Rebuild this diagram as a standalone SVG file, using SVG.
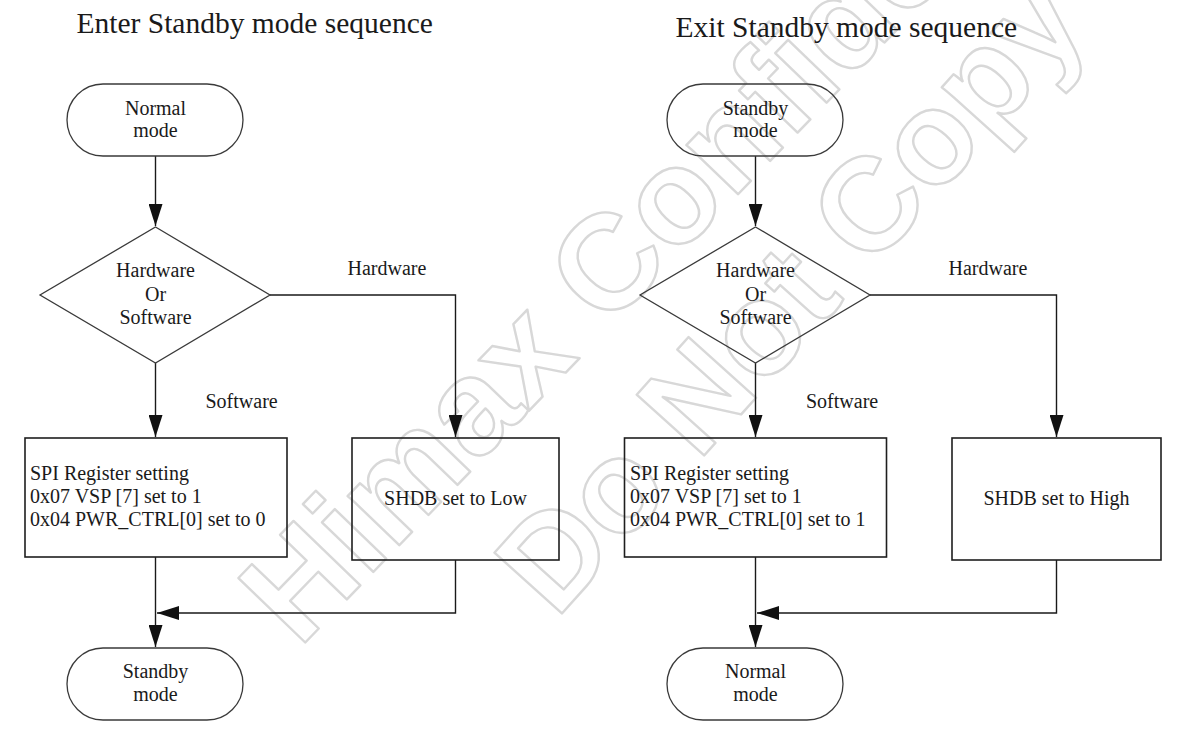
<svg xmlns="http://www.w3.org/2000/svg" width="1177" height="730" viewBox="0 0 1177 730">
  <style>
    .t { font-family: "Liberation Serif", "Times New Roman", serif; fill: #1a1a1a; }
    .title { font-size: 29.5px; }
    .lbl { font-size: 20px; }
    .mid { text-anchor: middle; }
    .shape { fill: none; stroke: #3a3a3a; stroke-width: 1.3; }
    .box { fill: none; stroke: #1e1e1e; stroke-width: 1.6; }
    .wire { fill: none; stroke: #1a1a1a; stroke-width: 1.4; }
    .wm { font-family: "Liberation Sans", Arial, sans-serif; font-weight: bold; fill: none; stroke: #d8d8d8; stroke-width: 2.4; stroke-linejoin: round; }
  </style>
  <defs>
    <marker id="arrow" markerUnits="userSpaceOnUse" markerWidth="22" markerHeight="14" refX="22" refY="7" orient="auto">
      <path d="M0,0 L22,7 L0,14 z" fill="#111"/>
    </marker>
  </defs>

  <rect width="1177" height="730" fill="#ffffff"/>

  <!-- background watermark -->
  <g id="watermark">
    <text class="wm" font-size="135" transform="translate(299,649) rotate(-46)">Himax Confidential</text>
    <text class="wm" font-size="132" transform="translate(556,620) rotate(-48)">Do Not Copy</text>
  </g>

  <!-- titles -->
  <text class="t title" x="76.5" y="33">Enter Standby mode sequence</text>
  <text class="t title" x="675.5" y="37">Exit Standby mode sequence</text>

  <!-- connectors -->
  <g id="connectors" class="wire" marker-end="url(#arrow)">
    <!-- enter sequence -->
    <path d="M155.5,156 V226"/>
    <path d="M155.5,363 V437"/>
    <path d="M270,295 H455.5 V437"/>
    <path d="M155.5,557 V647"/>
    <path d="M455.5,560 V613 H157"/>
    <!-- exit sequence -->
    <path d="M755.5,156 V226"/>
    <path d="M755.5,363 V437"/>
    <path d="M870,295 H1056.5 V437"/>
    <path d="M755.5,557 V647"/>
    <path d="M1056.5,560 V613 H757"/>
  </g>

  <!-- branch labels -->
  <g id="labels">
    <text class="t lbl" x="347.5" y="275">Hardware</text>
    <text class="t lbl" x="205.5" y="408">Software</text>
    <text class="t lbl" x="948.5" y="275">Hardware</text>
    <text class="t lbl" x="806" y="408">Software</text>
  </g>

  <!-- enter sequence nodes -->
  <g id="enter-normal">
    <rect class="shape" x="67" y="84" width="176" height="72" rx="36"/>
    <text class="t lbl mid" x="155.5" y="115">Normal</text>
    <text class="t lbl mid" x="155.5" y="137">mode</text>
  </g>
  <g id="enter-decision">
    <polygon class="shape" points="155.5,227 270,295 155.5,363 40,295"/>
    <text class="t lbl mid" x="155.5" y="277">Hardware</text>
    <text class="t lbl mid" x="155.5" y="301">Or</text>
    <text class="t lbl mid" x="155.5" y="324">Software</text>
  </g>
  <g id="enter-spi">
    <rect class="box" x="25" y="438" width="262" height="119"/>
    <text class="t lbl" x="30" y="480">SPI Register setting</text>
    <text class="t lbl" x="30" y="503">0x07 VSP [7] set to 1</text>
    <text class="t lbl" x="30" y="526">0x04 PWR_CTRL[0] set to 0</text>
  </g>
  <g id="enter-shdb">
    <rect class="box" x="352" y="438" width="207" height="122"/>
    <text class="t lbl mid" x="455.5" y="505">SHDB set to Low</text>
  </g>
  <g id="enter-standby">
    <rect class="shape" x="67" y="648" width="176" height="72" rx="36"/>
    <text class="t lbl mid" x="155.5" y="678">Standby</text>
    <text class="t lbl mid" x="155.5" y="701">mode</text>
  </g>

  <!-- exit sequence nodes -->
  <g id="exit-standby">
    <rect class="shape" x="667" y="84" width="176" height="72" rx="36"/>
    <text class="t lbl mid" x="755.5" y="115">Standby</text>
    <text class="t lbl mid" x="755.5" y="137">mode</text>
  </g>
  <g id="exit-decision">
    <polygon class="shape" points="755.5,227 870,295 755.5,363 640,295"/>
    <text class="t lbl mid" x="755.5" y="277">Hardware</text>
    <text class="t lbl mid" x="755.5" y="301">Or</text>
    <text class="t lbl mid" x="755.5" y="324">Software</text>
  </g>
  <g id="exit-spi">
    <rect class="box" x="624.5" y="438" width="262" height="119"/>
    <text class="t lbl" x="630" y="480">SPI Register setting</text>
    <text class="t lbl" x="630" y="503">0x07 VSP [7] set to 1</text>
    <text class="t lbl" x="630" y="526">0x04 PWR_CTRL[0] set to 1</text>
  </g>
  <g id="exit-shdb">
    <rect class="box" x="952" y="438" width="209" height="122"/>
    <text class="t lbl mid" x="1056.5" y="505">SHDB set to High</text>
  </g>
  <g id="exit-normal">
    <rect class="shape" x="667" y="648" width="176" height="72" rx="36"/>
    <text class="t lbl mid" x="755.5" y="678">Normal</text>
    <text class="t lbl mid" x="755.5" y="701">mode</text>
  </g>
</svg>
